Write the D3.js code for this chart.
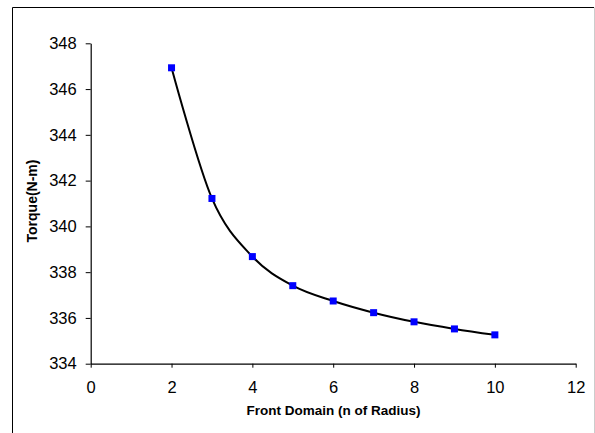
<!DOCTYPE html>
<html><head><meta charset="utf-8">
<script src="https://cdn.jsdelivr.net/npm/d3@7"></script>
<style>
html,body{margin:0;padding:0;background:#fff;}
svg{display:block;}
text{font-family:"Liberation Sans",Arial,sans-serif;}
</style></head>
<body>
<script>
const xValues = [2, 3, 4, 5, 6, 7, 8, 9, 10];
const torque = [346.93, 341.22, 338.68, 337.41, 336.74, 336.23, 335.83, 335.52, 335.26];
const xTicks = [0, 2, 4, 6, 8, 10, 12];
const yTicks = [334, 336, 338, 340, 342, 344, 346, 348];
const xTitle = "Front Domain (n of Radius)";
const yTitle = "Torque(N-m)";

const W = 595, H = 433;
const svg = d3.select("body").append("svg").attr("width", W).attr("height", H);

// outer chart border
svg.append("line").attr("x1",12.5).attr("y1",7.5).attr("x2",12.5).attr("y2",H).attr("stroke","#000").attr("stroke-width",1);
svg.append("line").attr("x1",12.5).attr("y1",7.5).attr("x2",594).attr("y2",7.5).attr("stroke","#000").attr("stroke-width",1);
svg.append("line").attr("x1",594.5).attr("y1",7.5).attr("x2",594.5).attr("y2",H).attr("stroke","#ccc").attr("stroke-width",1);

const x = d3.scaleLinear().domain([0, 12]).range([90.7, 575.7]);
const y = d3.scaleLinear().domain([334, 348]).range([363.7, 43.3]);

const fs = 16.5;
const xAxis = svg.append("g").attr("transform", "translate(0,363.7)")
  .call(d3.axisBottom(x).tickValues(xTicks).tickSize(4).tickPadding(14).tickSizeOuter(0).tickFormat(d3.format("d")));
const yAxis = svg.append("g").attr("transform", "translate(90.7,0)")
  .call(d3.axisLeft(y).tickValues(yTicks).tickSize(5).tickPadding(9).tickSizeOuter(0).tickFormat(d3.format("d")));
[xAxis, yAxis].forEach(a => {
  a.select(".domain").attr("stroke", "#000").attr("stroke-width", 1.2);
  a.selectAll(".tick line").attr("stroke", "#000").attr("stroke-width", 1);
  a.selectAll(".tick text").attr("font-size", fs).attr("fill", "#000")
    .attr("font-family", '"Liberation Sans",Arial,sans-serif');
});

svg.append("text").attr("x", 333.5).attr("y", 415).attr("text-anchor", "middle")
  .attr("font-size", 13.5).attr("font-weight", "bold").text(xTitle);
svg.append("text").attr("transform", "translate(36.5,201) rotate(-90)").attr("text-anchor", "middle")
  .attr("font-size", 14).attr("font-weight", "bold").text(yTitle);

const data = xValues.map((v, i) => ({x: v, y: torque[i]}));
const line = d3.line().x(d => x(d.x)).y(d => y(d.y)).curve(d3.curveCatmullRom.alpha(0));
svg.append("path").datum(data).attr("d", line).attr("fill", "none").attr("stroke", "#000").attr("stroke-width", 2);

svg.selectAll("rect.pt").data(data).enter().append("rect").attr("class", "pt")
  .attr("x", d => x(d.x) - 3.5).attr("y", d => y(d.y) - 3.5).attr("width", 7).attr("height", 7)
  .attr("fill", "#0000ff");
</script>
</body></html>
